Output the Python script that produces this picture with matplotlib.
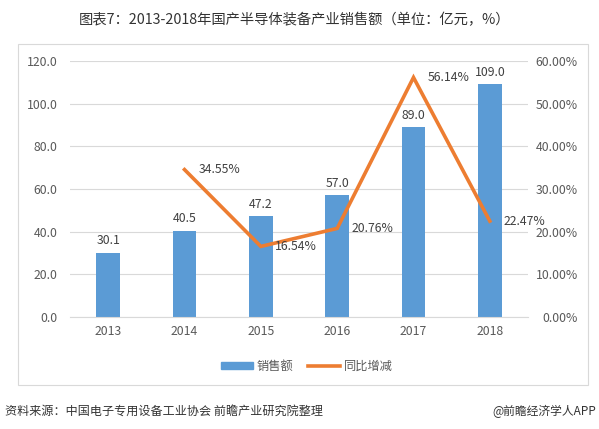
import matplotlib
matplotlib.use("Agg")
import matplotlib.pyplot as plt
from matplotlib.patches import Rectangle
from matplotlib.lines import Line2D

plt.rcParams['font.family'] = ['Noto Sans CJK SC', 'DejaVu Sans']

# data
years = ["2013", "2014", "2015", "2016", "2017", "2018"]
sales = [30.1, 40.5, 47.2, 57.0, 89.0, 109.0]          # 亿元
growth_years = ["2014", "2015", "2016", "2017", "2018"]
growth = [34.55, 16.54, 20.76, 56.14, 22.47]          # %

BAR_C = "#5B9BD5"
LINE_C = "#ED7D31"
TXT = "#595959"
GRID = "#D9D9D9"
FS = 8.8

W, H = 599, 429
fig = plt.figure(figsize=(W / 100, H / 100), dpi=100)
fig.patch.set_facecolor("white")

# chart frame
fig.patches.append(Rectangle((18 / W, 1 - 385 / H), (588 - 18) / W, (385 - 44) / H,
                             transform=fig.transFigure, fill=False,
                             edgecolor="#D9D9D9", linewidth=0.8))

ax = fig.add_axes([70 / W, 1 - 317 / H, 458 / W, 256 / H])
x = list(range(len(years)))
ax.bar(x, sales, width=0.31, color=BAR_C, zorder=2)
for xi, v in zip(x, sales):
    ax.annotate(f"{v:.1f}", (xi, v), xytext=(0, 4), textcoords="offset points",
                ha="center", va="bottom", fontsize=FS, color="#404040")
ax.set_xlim(-0.5, len(years) - 0.5)
ax.set_ylim(0, 120)
ax.set_yticks(range(0, 121, 20))
ax.set_yticklabels([f"{t:.1f}" for t in range(0, 121, 20)])
ax.set_xticks(x)
ax.set_xticklabels(years)
ax.yaxis.grid(True, color=GRID, linewidth=0.8, zorder=0)
ax.set_axisbelow(True)
for s in ax.spines.values():
    s.set_visible(False)
ax.spines["bottom"].set_visible(True)
ax.spines["bottom"].set_color(GRID)
ax.tick_params(axis="y", length=0, pad=9, labelsize=FS, labelcolor=TXT)
ax.tick_params(axis="x", length=0, pad=6, labelsize=FS, labelcolor=TXT)

ax2 = ax.twinx()
gx = [years.index(y) for y in growth_years]
ax2.plot(gx, [g / 100 for g in growth], color=LINE_C, linewidth=2.6,
         solid_joinstyle="miter", zorder=3)
for xi, g in zip(gx, growth):
    ax2.annotate(f"{g:.2f}%", (xi, g / 100), xytext=(10, 0), textcoords="offset points",
                 ha="left", va="center", fontsize=FS, color="#404040")
ax2.set_ylim(0, 0.6)
ax2.set_yticks([i / 10 for i in range(7)])
ax2.set_yticklabels([f"{i * 10:.2f}%" for i in range(7)])
for lbl in ax2.get_yticklabels():
    lbl.set_horizontalalignment("right")
ax2.tick_params(axis="y", length=0, pad=36, labelsize=FS, labelcolor=TXT)
for s in ax2.spines.values():
    s.set_visible(False)

handles = [Rectangle((0, 0), 1, 1, color=BAR_C),
           Line2D([0], [0], color=LINE_C, linewidth=2.6)]
fig.legend(handles, ["销售额", "同比增减"], loc="center", bbox_to_anchor=(307 / W, 1 - 366 / H),
           ncol=2, frameon=False, fontsize=FS, labelcolor=TXT,
           handlelength=2.6, handleheight=0.5, columnspacing=1.2, handletextpad=0.3)

fig.text(295 / W, 1 - 20 / H, "图表7：2013-2018年国产半导体装备产业销售额（单位：亿元，%）",
         ha="center", va="center", fontsize=10.3, color="#333333")
fig.text(5 / W, 1 - 411 / H, "资料来源：中国电子专用设备工业协会 前瞻产业研究院整理",
         ha="left", va="center", fontsize=8.7, color="#333333", style="italic")
fig.text(596 / W, 1 - 411 / H, "@前瞻经济学人APP",
         ha="right", va="center", fontsize=8.5, color="#333333")

fig.savefig("out.png", dpi=100, facecolor="white")
